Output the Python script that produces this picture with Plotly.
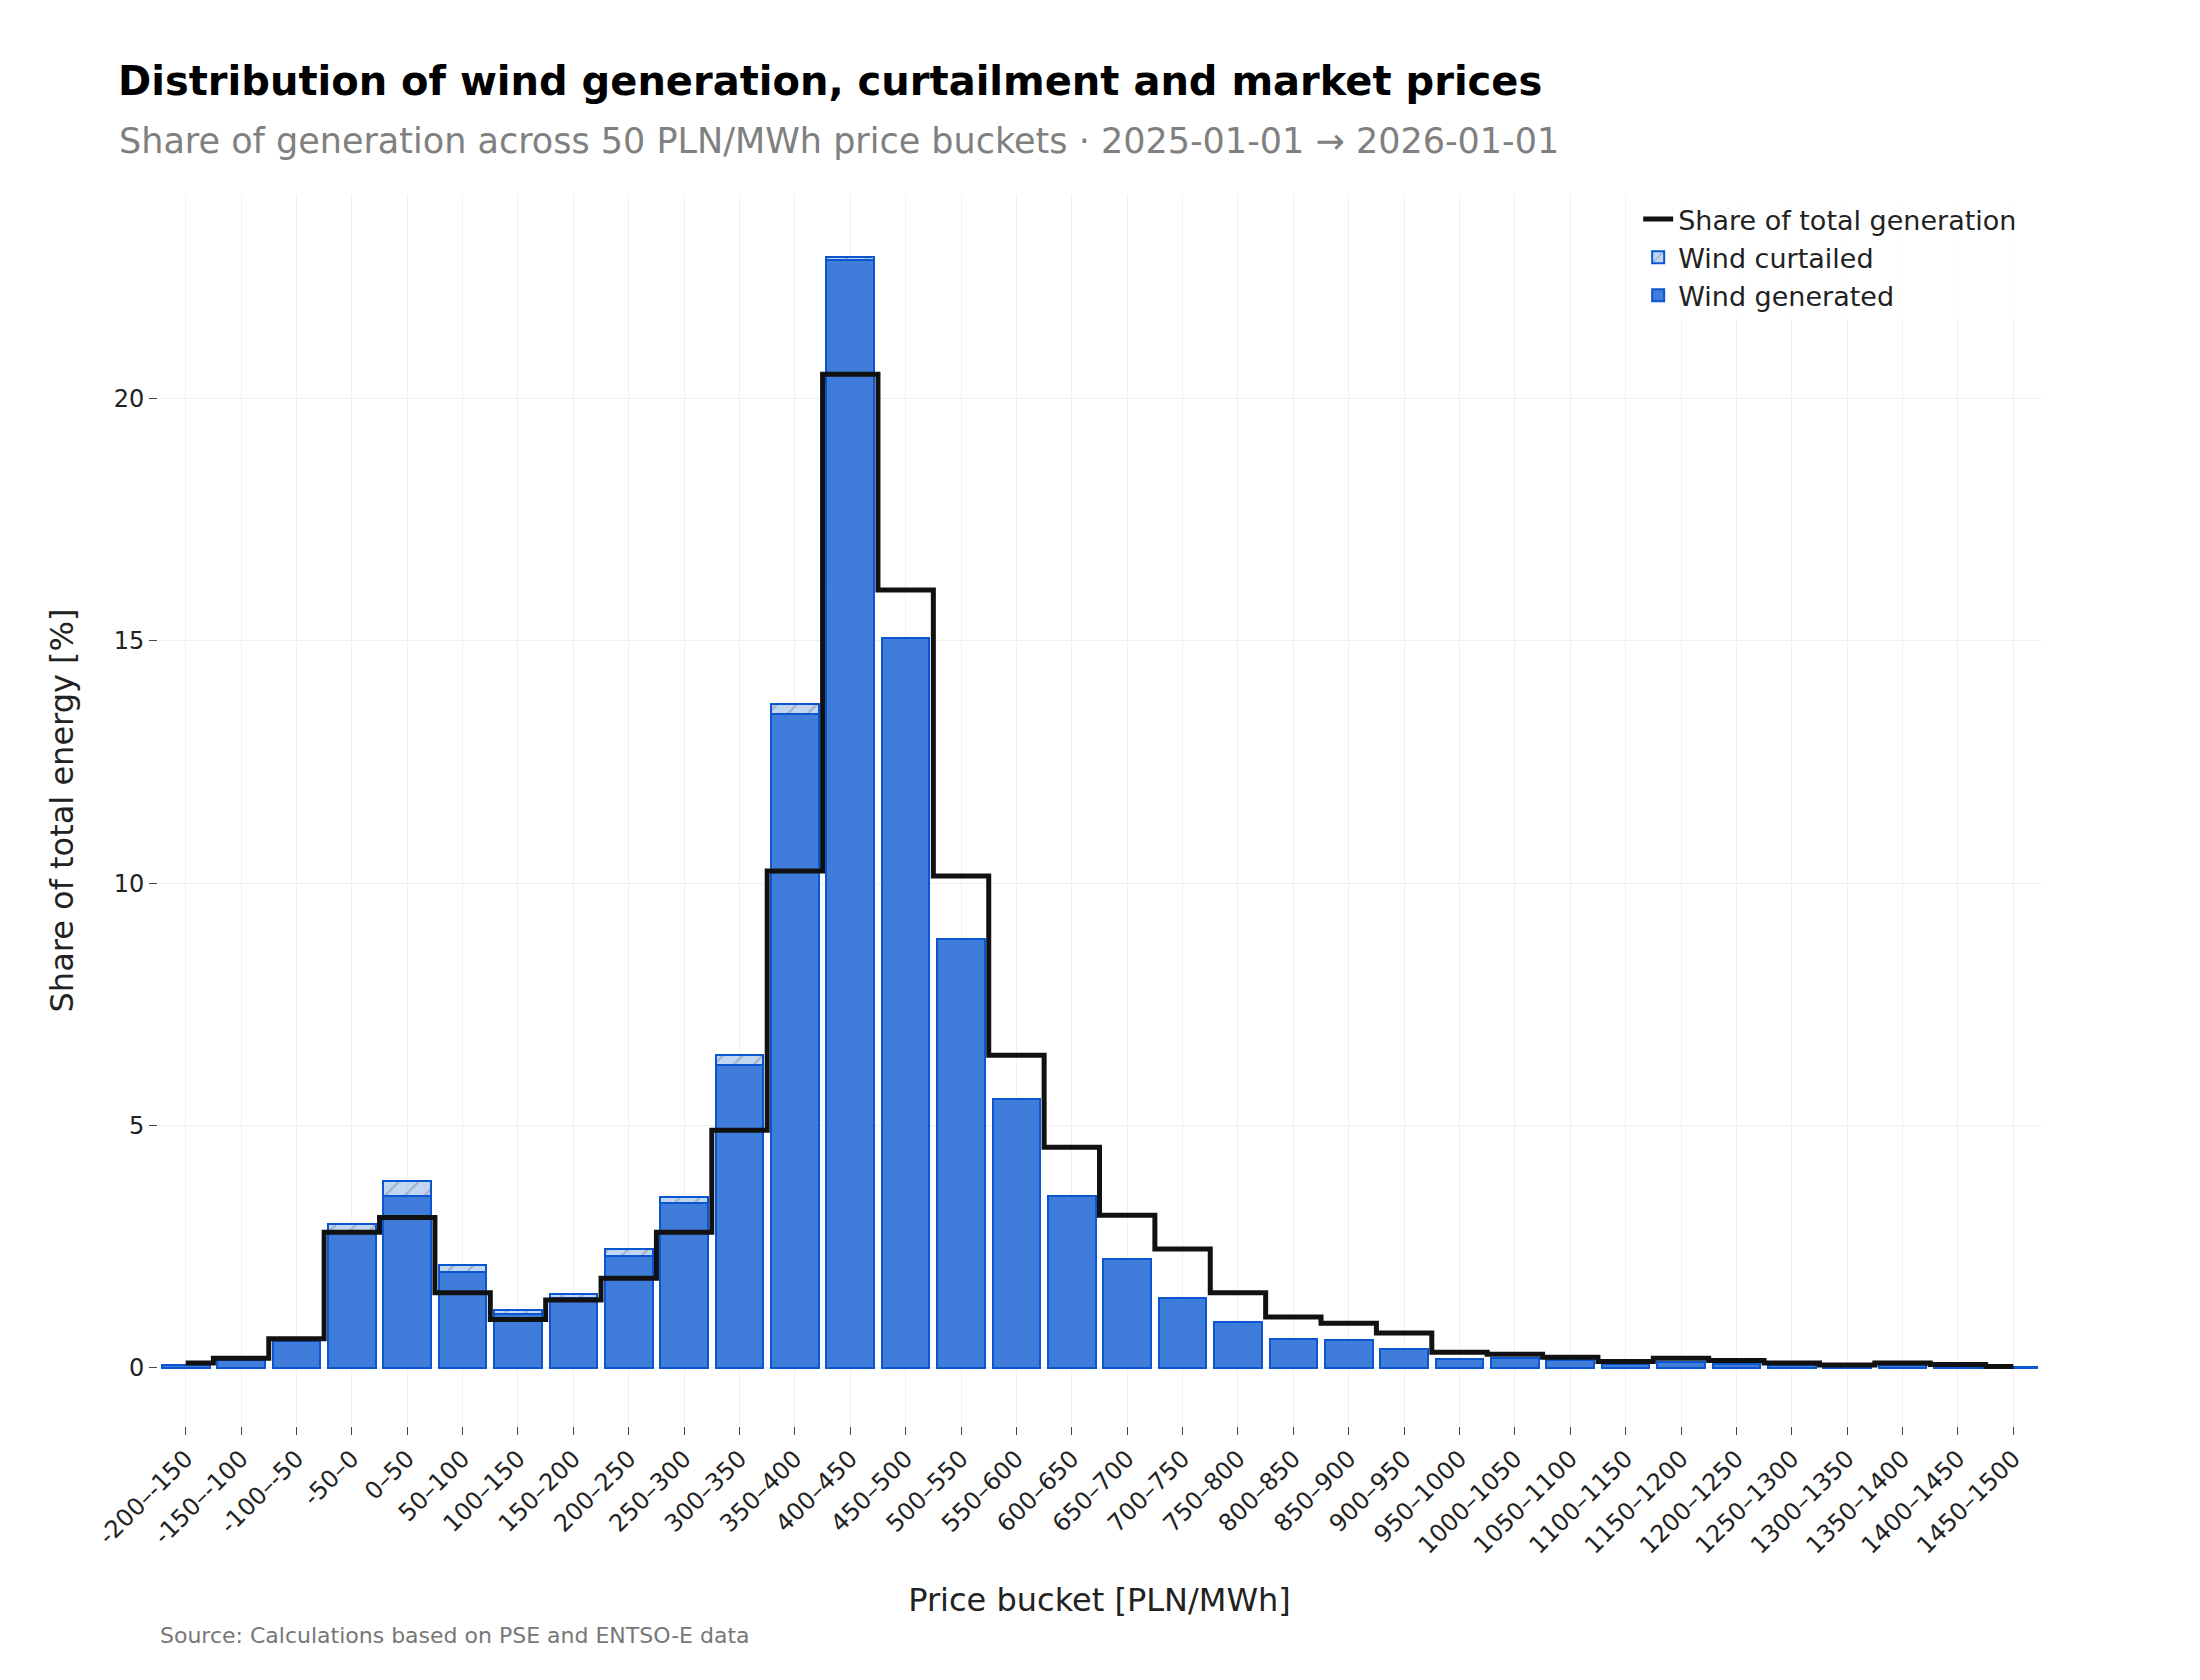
import plotly.graph_objects as go

buckets = ["-200–-150","-150–-100","-100–-50","-50–0","0–50","50–100","100–150","150–200",
           "200–250","250–300","300–350","350–400","400–450","450–500","500–550","550–600",
           "600–650","650–700","700–750","750–800","800–850","850–900","900–950","950–1000",
           "1000–1050","1050–1100","1100–1150","1150–1200","1200–1250","1250–1300","1300–1350",
           "1350–1400","1400–1450","1450–1500"]
wind_generated = [0.05,0.17,0.55,2.8,3.55,1.97,1.12,1.45,2.3,3.4,6.25,13.5,22.85,15.05,8.85,5.55,
                  3.55,2.25,1.45,0.95,0.6,0.58,0.38,0.18,0.2,0.17,0.08,0.12,0.07,0.05,0.02,0.06,0.03,0.02]
wind_curtailed = [0,0,0,0.17,0.3,0.15,0.08,0.07,0.15,0.12,0.2,0.2,0.07,0,0,0,
                  0,0,0,0,0,0,0,0,0,0,0,0,0,0,0,0,0,0]
share_total = [0.1,0.2,0.6,2.8,3.1,1.55,1.0,1.4,1.85,2.8,4.9,10.25,20.5,16.05,10.15,6.45,
               4.55,3.15,2.45,1.55,1.05,0.92,0.72,0.32,0.28,0.22,0.13,0.2,0.15,0.1,0.06,0.1,0.07,0.03]

font = "DejaVu Sans, sans-serif"
fig = go.Figure()
fig.add_bar(x=buckets, y=wind_generated, name="Wind generated",
            marker=dict(color="rgba(50,115,215,0.93)", line=dict(color="#0a55d0", width=2)))
fig.add_bar(x=buckets, y=wind_curtailed, name="Wind curtailed",
            marker=dict(color="rgba(185,210,242,0.9)", line=dict(color="#0a55d0", width=2),
                        pattern=dict(shape="/", fgcolor="#888888", size=14, solidity=0.15)))
fig.add_scatter(x=buckets, y=share_total, name="Share of total generation", mode="lines",
                line=dict(color="#111111", width=5, shape="hvh"))

fig.update_layout(
    width=2200, height=1680, barmode="stack", bargap=0.14,
    plot_bgcolor="white", paper_bgcolor="white",
    font=dict(family=font, size=24, color="#222"),
    margin=dict(l=150, r=167, t=187, b=262),
    title=dict(text="<b>Distribution of wind generation, curtailment and market prices</b>",
               x=0.05, xanchor="left", y=0.965, yanchor="top",
               font=dict(size=40, color="#000")),
    legend=dict(x=0.99, xanchor="right", y=1.0, yanchor="top", bgcolor="rgba(255,255,255,0.85)",
                font=dict(size=27), traceorder="reversed"),
    xaxis=dict(title=dict(text="Price bucket [PLN/MWh]", font=dict(size=32), standoff=30),
               tickangle=-45, showgrid=True, gridcolor="#f0f0f0", ticks="outside",
               ticklen=8, tickcolor="#444", tickfont=dict(size=24)),
    yaxis=dict(title=dict(text="Share of total energy [%]", font=dict(size=32), standoff=30),
               range=[-1.2, 24.2], dtick=5, showgrid=True, gridcolor="#f0f0f0",
               zeroline=False, ticks="outside", ticklen=8, tickcolor="#444", tickfont=dict(size=24)),
    annotations=[
        dict(text="Share of generation across 50 PLN/MWh price buckets · 2025-01-01 → 2026-01-01",
             xref="paper", yref="paper", x=-0.022, y=1.044, xanchor="left", yanchor="middle",
             showarrow=False, font=dict(size=35, color="#808080")),
        dict(text="Source: Calculations based on PSE and ENTSO-E data", xref="paper", yref="paper",
             x=0.0, y=-0.17, xanchor="left", yanchor="middle", showarrow=False,
             font=dict(size=22, color="#777"))],
)
fig.write_html("out.html")
